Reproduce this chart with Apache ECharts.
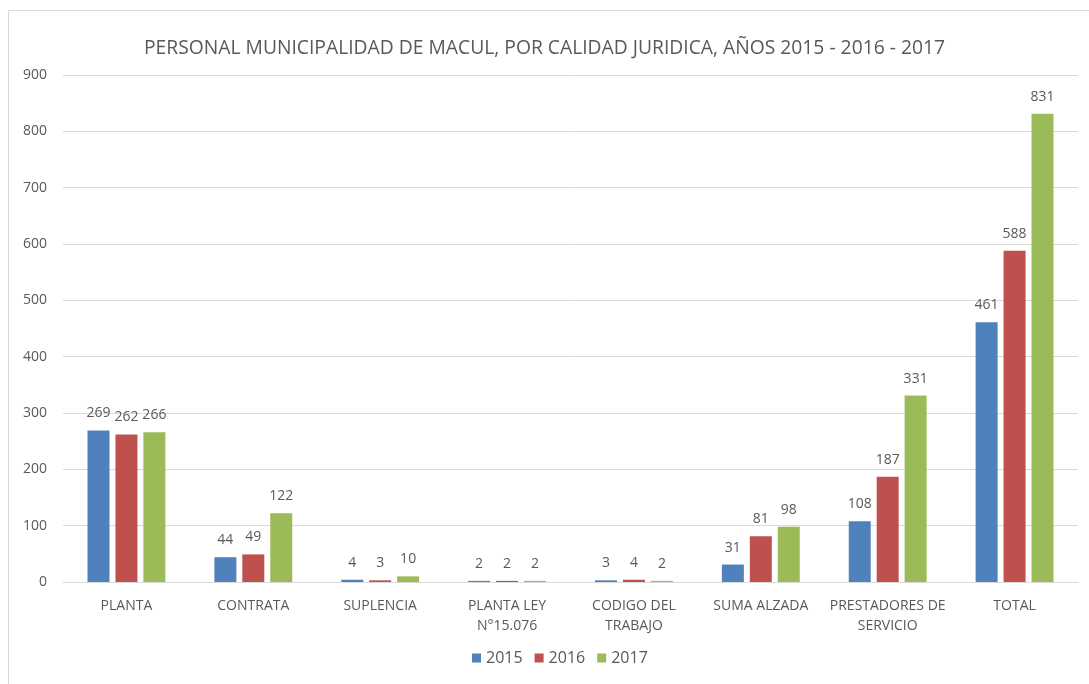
<!DOCTYPE html>
<html>
<head>
<meta charset="utf-8">
<script src="https://cdn.jsdelivr.net/npm/echarts@6/dist/echarts.min.js"></script>
<style>
  html, body { margin: 0; padding: 0; background: #fff; }
  #main { width: 1089px; height: 684px; }
</style>
</head>
<body>
<div id="main"></div>
<script>
// categorias y valores por año
var categorias = ['PLANTA', 'CONTRATA', 'SUPLENCIA', 'PLANTA LEY\nN°15.076', 'CODIGO DEL\nTRABAJO', 'SUMA ALZADA', 'PRESTADORES DE\nSERVICIO', 'TOTAL'];
var datos2015 = [269, 44, 4, 2, 3, 31, 108, 461];
var datos2016 = [262, 49, 3, 2, 4, 81, 187, 588];
var datos2017 = [266, 122, 10, 2, 2, 98, 331, 831];

var fuente = 'Open Sans, Noto Sans, sans-serif';
var gris = '#595959';

function serie(nombre, datos, color) {
    return {
        name: nombre,
        type: 'bar',
        data: datos,
        barWidth: 22,
        barGap: '27%',
        itemStyle: { color: color },
        label: {
            show: true,
            position: 'top',
            distance: 10,
            color: gris,
            fontSize: 14,
            fontFamily: fuente
        }
    };
}

var chart = echarts.init(document.getElementById('main'));
chart.setOption({
    backgroundColor: '#fff',
    animation: false,
    title: {
        text: 'PERSONAL MUNICIPALIDAD DE MACUL, POR CALIDAD JURIDICA, AÑOS 2015 - 2016 - 2017',
        left: 'center',
        top: 34,
        textStyle: { color: gris, fontSize: 19.3, fontWeight: 'normal', fontFamily: fuente }
    },
    graphic: [{
        type: 'rect',
        shape: { x: 8.5, y: 10.5, width: 1100, height: 700 },
        style: { fill: 'none', stroke: '#d9d9d9', lineWidth: 1 },
        silent: true
    }],
    legend: {
        bottom: 13,
        left: 467,
        itemWidth: 9,
        itemHeight: 9,
        itemGap: 12,
        icon: 'rect',
        textStyle: { color: gris, fontSize: 16, fontFamily: fuente },
        data: ['2015', '2016', '2017']
    },
    grid: { left: 63, right: 11, top: 75, bottom: 102, containLabel: false },
    xAxis: {
        type: 'category',
        data: categorias,
        axisTick: { show: false },
        axisLine: { lineStyle: { color: '#d9d9d9' } },
        axisLabel: { color: gris, fontSize: 14, fontFamily: fuente, margin: 14, lineHeight: 20, interval: 0 }
    },
    yAxis: {
        type: 'value',
        min: 0,
        max: 900,
        interval: 100,
        axisLine: { show: false },
        axisTick: { show: false },
        splitLine: { lineStyle: { color: '#d9d9d9' } },
        axisLabel: { color: gris, fontSize: 14, fontFamily: fuente, margin: 16 }
    },
    series: [
        serie('2015', datos2015, '#4F81BD'),
        serie('2016', datos2016, '#C0504D'),
        serie('2017', datos2017, '#9BBB59')
    ]
});
</script>
</body>
</html>
